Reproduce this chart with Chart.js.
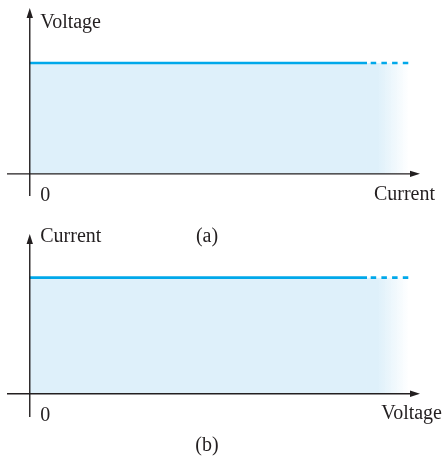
<!DOCTYPE html>
<html>
<head>
<meta charset="utf-8">
<script src="https://cdn.jsdelivr.net/npm/chart.js@4.4.1/dist/chart.umd.min.js"></script>
<style>
  html, body { margin: 0; padding: 0; background: #fff; }
  #wrap { position: relative; width: 444px; height: 459px; overflow: hidden; }
  canvas { position: absolute; left: 0; }
  #chartA { top: 0; }
  #chartB { top: 226px; }
</style>
</head>
<body>
<div id="wrap">
  <canvas id="chartB" width="444" height="233"></canvas>
  <canvas id="chartA" width="444" height="250"></canvas>
</div>
<script>
// x positions: start, end of solid line, end of dashed line
const xValues = [0, 10.37, 11.65];
const levelA = [5, 5, 5];
const levelB = [5, 5, 5];
const xTickLabels = ['0'];
const yTitles = ['Voltage', 'Current'];
const xTitles = ['Current', 'Voltage'];
const captions = ['(a)', '(b)'];

const lineColor = 'rgb(0, 168, 234)';
const fillColor = 'rgb(222, 240, 250)';
const axisColor = '#231f20';
const font = '20px "Liberation Serif", "Times New Roman", serif';

const arrowAxes = {
    id: 'arrowAxes',
    afterDatasetsDraw(chart, args, opts) {
        const ctx = chart.ctx;
        const xs = chart.scales.x, ys = chart.scales.y;
        const x0 = xs.getPixelForValue(0), y0 = ys.getPixelForValue(0);
        const left = xs.getPixelForValue(xs.min), right = xs.getPixelForValue(xs.max);
        const top = ys.getPixelForValue(ys.max), bottom = ys.getPixelForValue(ys.min);
        ctx.save();
        ctx.strokeStyle = axisColor;
        ctx.fillStyle = axisColor;
        ctx.lineWidth = 1.4;
        ctx.beginPath();
        ctx.moveTo(left, y0);
        ctx.lineTo(right - 8, y0);
        ctx.moveTo(x0, bottom);
        ctx.lineTo(x0, top + 8);
        ctx.stroke();
        // arrow heads
        ctx.beginPath();
        ctx.moveTo(right, y0);
        ctx.lineTo(right - 10, y0 - 3.2);
        ctx.lineTo(right - 10, y0 + 3.2);
        ctx.closePath();
        ctx.moveTo(x0, top);
        ctx.lineTo(x0 - 3.2, top + 10);
        ctx.lineTo(x0 + 3.2, top + 10);
        ctx.closePath();
        ctx.fill();

        ctx.font = font;
        ctx.textBaseline = 'alphabetic';
        ctx.textAlign = 'left';
        ctx.fillText(opts.yTitle, x0 + 10.5, opts.yTitleBase);
        ctx.fillText(xTickLabels[0], x0 + 10.5, opts.tickBase);
        ctx.textAlign = 'right';
        ctx.fillText(opts.xTitle, opts.xTitleRight, opts.xTitleBase);
        ctx.textAlign = 'center';
        ctx.fillText(opts.caption, opts.captionX, opts.captionBase);
        ctx.restore();
    }
};

function fadeFill(context) {
    const chart = context.chart;
    if (!chart.chartArea) return fillColor;
    const xs = chart.scales.x;
    const g = chart.ctx.createLinearGradient(xs.getPixelForValue(10.7), 0, xs.getPixelForValue(11.66), 0);
    g.addColorStop(0, fillColor);
    g.addColorStop(1, 'rgba(222, 240, 250, 0)');
    return g;
}

function makeChart(id, values, yMax, padBottom, labels) {
    return new Chart(document.getElementById(id), {
        type: 'line',
        data: {
            labels: xValues,
            datasets: [{
                data: xValues.map((x, i) => ({ x: x, y: values[i] })),
                borderColor: lineColor,
                borderWidth: 2.6,
                borderCapStyle: 'butt',
                backgroundColor: fadeFill,
                fill: 'origin',
                pointRadius: 0,
                tension: 0,
                segment: {
                    borderDash: ctx => ctx.p0DataIndex === 1 ? [5.5, 5.2] : undefined,
                    borderDashOffset: ctx => ctx.p0DataIndex === 1 ? 7 : undefined
                }
            }]
        },
        options: {
            responsive: false,
            animation: false,
            devicePixelRatio: 1,
            layout: { padding: { left: 7, right: 24, top: 8, bottom: padBottom } },
            scales: {
                x: { type: 'linear', min: -0.7, max: 12, display: false },
                y: { type: 'linear', min: -1, max: yMax, display: false }
            },
            plugins: {
                legend: { display: false },
                tooltip: { enabled: false },
                arrowAxes: labels
            }
        },
        plugins: [arrowAxes]
    });
}

makeChart('chartA', levelA, 7.48, 54, {
    yTitle: yTitles[0], yTitleBase: 28,
    tickBase: 201,
    xTitle: xTitles[0], xTitleRight: 435, xTitleBase: 200,
    caption: captions[0], captionX: 207, captionBase: 242
});

makeChart('chartB', levelB, 6.88, 42, {
    yTitle: yTitles[1], yTitleBase: 16,
    tickBase: 195,
    xTitle: xTitles[1], xTitleRight: 442, xTitleBase: 193,
    caption: captions[1], captionX: 207, captionBase: 225
});
</script>
</body>
</html>
